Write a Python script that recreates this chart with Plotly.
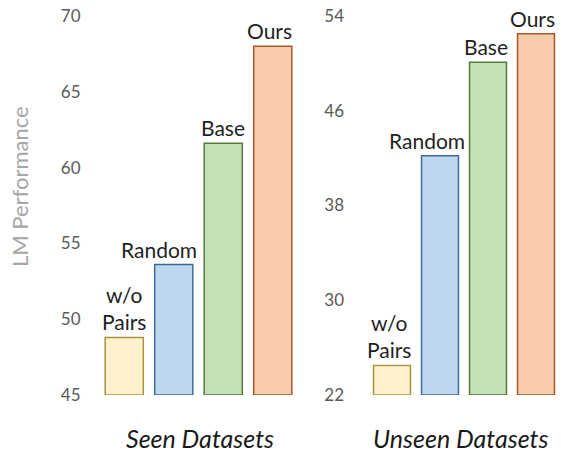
import plotly.graph_objects as go

methods = ["w/o<br>Pairs", "Random", "Base", "Ours"]
seen_values = [48.8, 53.6, 61.6, 68.0]
unseen_values = [24.5, 42.2, 50.1, 52.5]
seen_ticks = [45, 50, 55, 60, 65, 70]
unseen_ticks = [22, 30, 38, 46, 54]
seen_range = [45, 70]
unseen_range = [22, 54]
group_titles = ["Seen Datasets", "Unseen Datasets"]
y_title = "LM Performance"

# styling: colours and small horizontal nudges of the bar labels (as in the original slide)
fills = ["#FFF2CC", "#BDD7EE", "#C5E0B4", "#F8CBAD"]
borders = ["#A8923F", "#3F6A96", "#557A3A", "#A9572A"]
label_nudge_seen = [0, -15, 0, -3]
label_nudge_unseen = [-3, -13, -2, -4]

FONT = "Lato"
W, H = 561, 455
MT = 16
PLOT_BOTTOM = 395
MB = H - PLOT_BOTTOM
plot_h = PLOT_BOTTOM - MT

fig = go.Figure()
annotations = []

panels = [(seen_values, seen_range, label_nudge_seen), (unseen_values, unseen_range, label_nudge_unseen)]
for i, (vals, rng, nudges) in enumerate(panels):
    sfx = "" if i == 0 else "2"
    fig.add_trace(go.Bar(
        x=methods,
        y=[v - rng[0] for v in vals],
        base=rng[0],
        cliponaxis=False,
        marker=dict(color=fills, line=dict(color=borders, width=1.5)),
        xaxis="x" + sfx,
        yaxis="y" + sfx,
        showlegend=False,
        hoverinfo="skip",
    ))
    for m, v, dx in zip(methods, vals, nudges):
        annotations.append(dict(
            text=m, x=m, y=v, xref="x" + sfx, yref="y" + sfx,
            showarrow=False, xanchor="center", yanchor="bottom",
            xshift=dx, yshift=1,
            font=dict(family=FONT, size=21, color="#1f1f1f"),
        ))

def px_x(p):
    return p / W

def px_y(p):
    return (PLOT_BOTTOM - p) / plot_h

layout = dict(
    width=W, height=H,
    margin=dict(l=0, r=0, t=MT, b=MB),
    paper_bgcolor="white", plot_bgcolor="white",
    bargap=0.23,
    font=dict(family=FONT),
)

axis_common = dict(showgrid=False, zeroline=False, showline=False, ticks="")
layout["xaxis"] = dict(domain=[px_x(99.5), px_x(297.5)], showticklabels=False, anchor="y", **axis_common)
layout["xaxis2"] = dict(domain=[px_x(365), px_x(560)], showticklabels=False, anchor="y2", **axis_common)
layout["yaxis"] = dict(range=seen_range, tickvals=seen_ticks, anchor="x", ticklabelstandoff=18,
                       ticklabeloverflow="allow",
                       tickfont=dict(family=FONT, size=17, color="#595959"), **axis_common)
layout["yaxis2"] = dict(range=unseen_range, tickvals=unseen_ticks, anchor="x2", ticklabelstandoff=20,
                        ticklabeloverflow="allow",
                        tickfont=dict(family=FONT, size=17, color="#595959"), **axis_common)

annotations += [
    dict(text=y_title, x=px_x(19), y=px_y(187), xref="paper", yref="paper",
         textangle=-90, showarrow=False, xanchor="center", yanchor="middle",
         font=dict(family=FONT, size=22, color="#A6A6A6")),
    dict(text="<i>" + group_titles[0] + "</i>", x=px_x(200), y=px_y(438), xref="paper", yref="paper",
         showarrow=False, xanchor="center", yanchor="middle",
         font=dict(family=FONT, size=25, color="#1a1a1a")),
    dict(text="<i>" + group_titles[1] + "</i>", x=px_x(460), y=px_y(438), xref="paper", yref="paper",
         showarrow=False, xanchor="center", yanchor="middle",
         font=dict(family=FONT, size=25, color="#1a1a1a")),
]
layout["annotations"] = annotations

fig.update_layout(**layout)
fig.write_html("out.html", config={"displayModeBar": False},
               post_script="document.body.style.margin='0';document.body.style.overflow='hidden';")
